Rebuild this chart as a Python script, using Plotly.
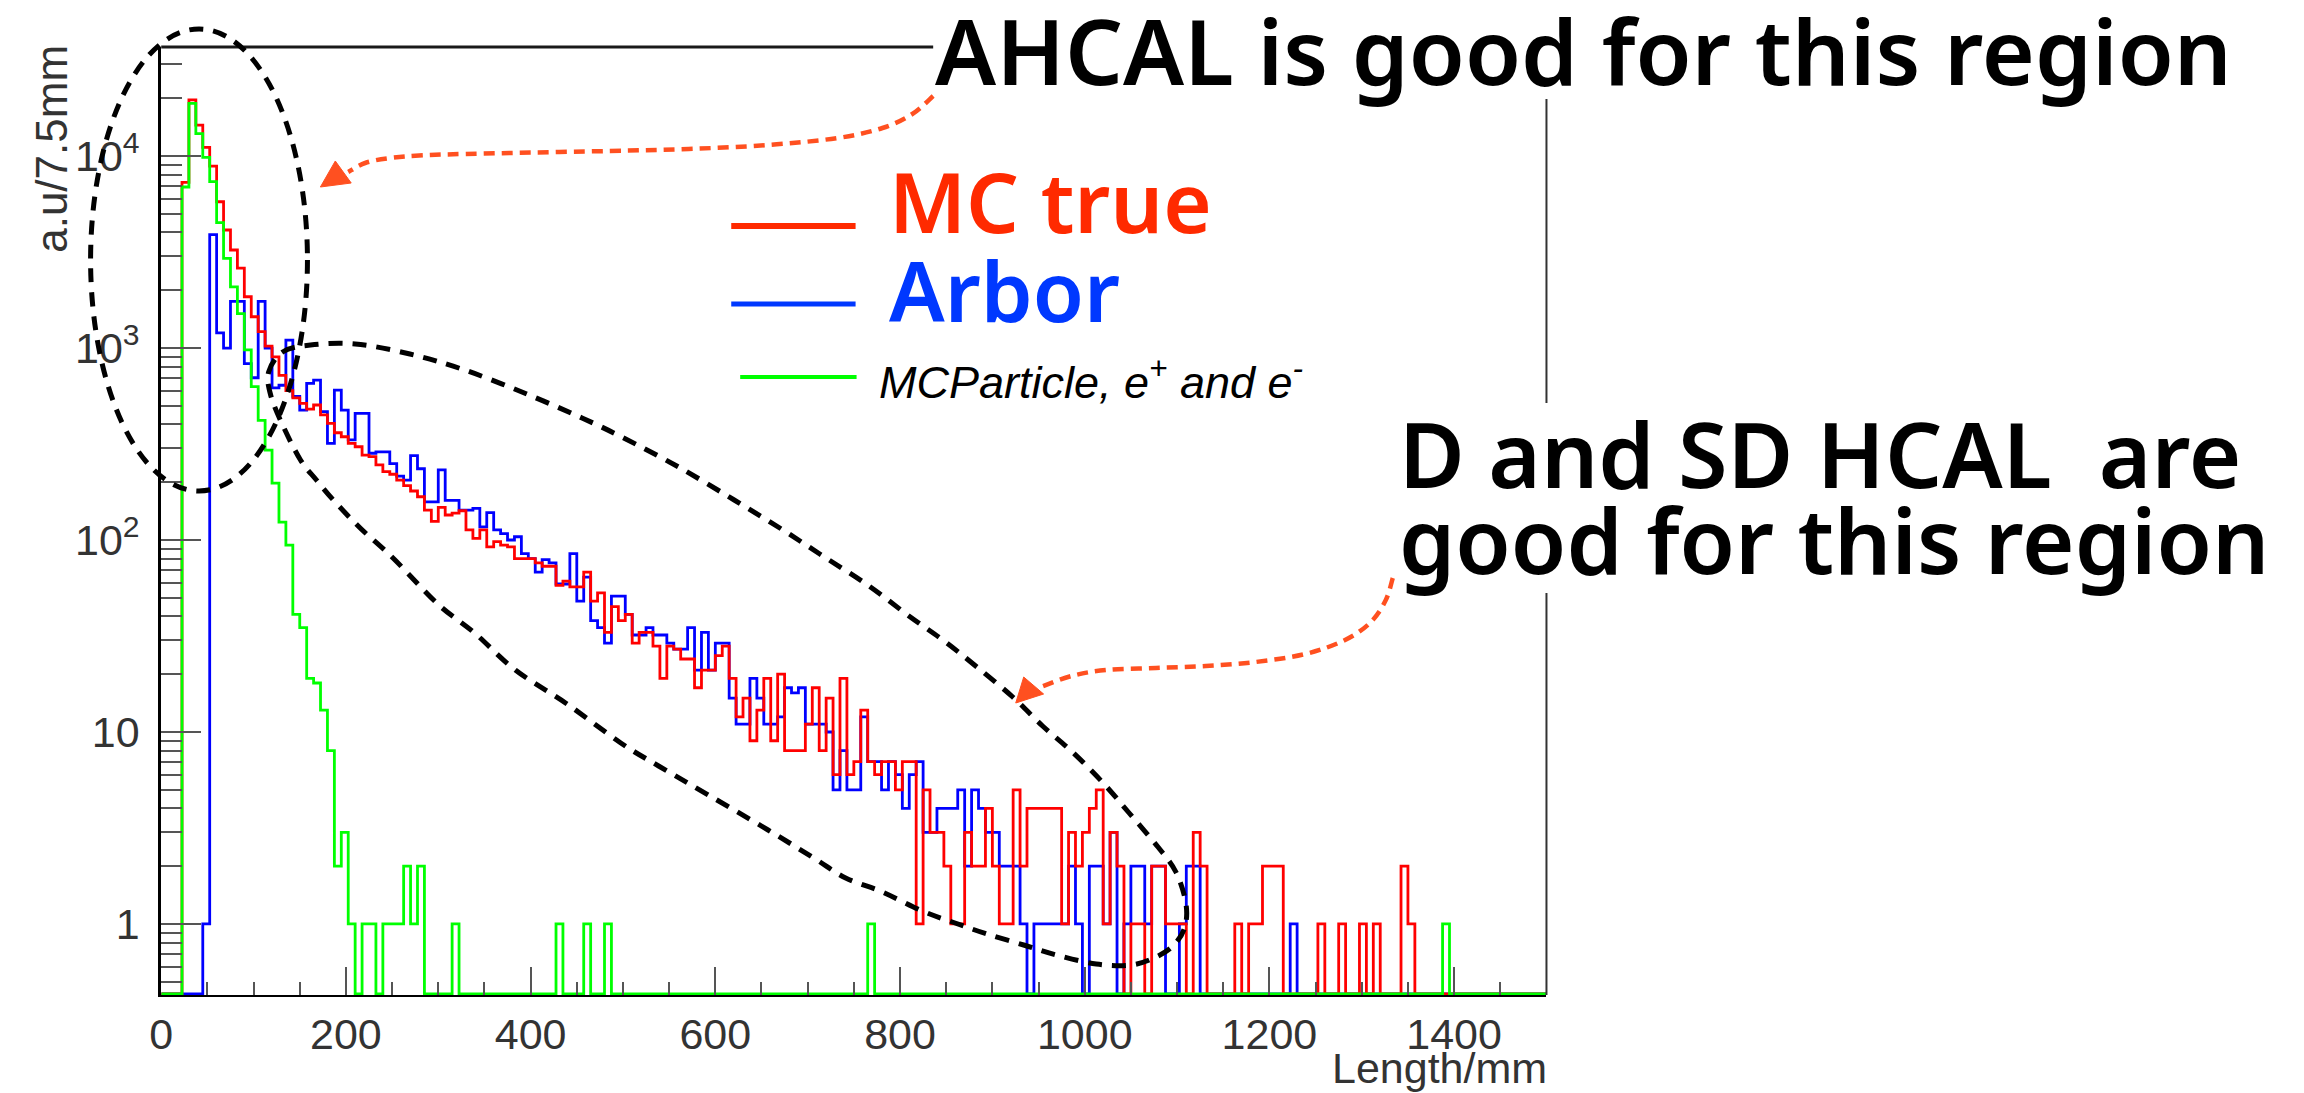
import plotly.graph_objects as go

# ---------------------------------------------------------------------------
# Figure geometry (pixels)
# ---------------------------------------------------------------------------
W, H = 2304, 1093
PLOT_LEFT, PLOT_RIGHT = 150, 1542.5
PLOT_TOP, PLOT_BOTTOM = 47, 995

# ---------------------------------------------------------------------------
# Histogram data: track length, 200 bins of 7.5 mm from 0 to 1500 mm
# ---------------------------------------------------------------------------
BIN_WIDTH = 7.5
N_BINS = 200

mc_true = [
    0, 0, 0, 7300, 19600, 14500, 11100, 8870, 5780, 4120,
    3240, 2610, 1850, 1455, 1216, 1024, 900, 720, 600, 550,
    515, 480, 505, 448, 405, 362, 345, 319, 306, 277,
    272, 246, 227, 220, 205, 192, 180, 168, 143, 125,
    148, 135, 138, 142, 113, 102, 113, 92, 98, 94,
    92, 80, 80, 80, 76, 73, 73, 58, 61, 57,
    57, 68, 48, 53, 33, 45, 38, 41, 29, 33,
    33, 28, 19, 28, 27, 24, 24, 17, 21, 21,
    25, 28, 19, 12, 15, 9, 13, 19, 9, 20,
    8, 8, 8, 11, 17, 8, 15, 6, 19, 6,
    7, 13, 7, 6, 7, 7, 5, 7, 7, 1,
    5, 3, 3, 2, 1, 1, 3, 2, 2, 4,
    2, 1, 1, 5, 2, 4, 4, 4, 4, 4,
    1, 3, 2, 3, 4, 5, 1, 3, 2, 0,
    1, 1, 0, 2, 2, 1, 1, 1, 0, 3,
    2, 0, 0, 0, 0, 1, 0, 1, 1, 2,
    2, 2, 0, 0, 0, 0, 0, 1, 0, 0,
    1, 0, 0, 1, 0, 1, 0, 0, 0, 2,
    1, 0, 0, 0, 0, 0, 0, 0, 0, 0,
    0, 0, 0, 0, 0, 0, 0, 0, 0, 0,
]

arbor = [
    0, 0, 0, 0, 0, 0, 1, 3900, 1200, 1000,
    1750, 1750, 830, 700, 1750, 1000, 620, 640, 1100, 560,
    475, 654, 681, 466, 319, 604, 475, 332, 457, 457,
    283, 288, 288, 250, 215, 205, 275, 235, 158, 158,
    232, 161, 161, 143, 143, 146, 117, 139, 113, 108,
    100, 104, 85, 80, 68, 79, 76, 59, 59, 85,
    48, 64, 38, 35, 29, 51, 51, 41, 32, 32,
    35, 32, 32, 29, 27, 27, 35, 21, 33, 21,
    29, 29, 15, 11, 11, 19, 15, 11, 11, 12,
    17, 16, 17, 11, 11, 11, 10, 5, 8, 5,
    5, 12, 7, 7, 5, 7, 6, 4, 6, 7,
    3, 3, 4, 4, 4, 5, 2, 5, 4, 3,
    3, 2, 2, 2, 1, 0, 1, 1, 1, 1,
    1, 2, 1, 0, 2, 2, 1, 3, 0, 1,
    2, 2, 1, 2, 2, 0, 0, 1, 2, 2,
    0, 0, 0, 0, 0, 0, 0, 0, 0, 0,
    0, 0, 0, 1, 0, 0, 0, 0, 0, 0,
    0, 0, 0, 0, 0, 0, 0, 0, 0, 0,
    0, 0, 0, 0, 0, 0, 0, 0, 0, 0,
    0, 0, 0, 0, 0, 0, 0, 0, 0, 0,
]

mc_particle_ee = [
    0, 0, 0, 6900, 18800, 13100, 9850, 7350, 4500, 2930,
    2080, 1510, 977, 630, 420, 294, 198, 124, 94, 41,
    35, 19, 18, 13, 8, 2, 3, 1, 0, 1,
    1, 0, 1, 1, 1, 2, 1, 2, 0, 0,
    0, 0, 1, 0, 0, 0, 0, 0, 0, 0,
    0, 0, 0, 0, 0, 0, 0, 1, 0, 0,
    0, 1, 0, 0, 1, 0, 0, 0, 0, 0,
    0, 0, 0, 0, 0, 0, 0, 0, 0, 0,
    0, 0, 0, 0, 0, 0, 0, 0, 0, 0,
    0, 0, 0, 0, 0, 0, 0, 0, 0, 0,
    0, 0, 1, 0, 0, 0, 0, 0, 0, 0,
    0, 0, 0, 0, 0, 0, 0, 0, 0, 0,
    0, 0, 0, 0, 0, 0, 0, 0, 0, 0,
    0, 0, 0, 0, 0, 0, 0, 0, 0, 0,
    0, 0, 0, 0, 0, 0, 0, 0, 0, 0,
    0, 0, 0, 0, 0, 0, 0, 0, 0, 0,
    0, 0, 0, 0, 0, 0, 0, 0, 0, 0,
    0, 0, 0, 0, 0, 0, 0, 0, 0, 0,
    0, 0, 0, 0, 0, 1, 0, 0, 0, 0,
    0, 0, 0, 0, 0, 0, 0, 0, 0, 0,
]

x_tick_vals = [0, 200, 400, 600, 800, 1000, 1200, 1400]
x_tick_text = ["0", "200", "400", "600", "800", "1000", "1200", "1400"]
y_tick_vals = [1, 10, 100, 1000, 10000]
y_tick_text = ["1", "10", "10<sup>2</sup>", "10<sup>3</sup>", "10<sup>4</sup>"]

X_RANGE = [0, 1500]
Y_LOG_RANGE = [-0.370, 4.568]

# empty bins are drawn along the bottom edge of the frame, as ROOT does
FLOOR = 10 ** (Y_LOG_RANGE[0] + 0.006)

edges = [i * BIN_WIDTH for i in range(N_BINS + 1)]


def step_values(vals):
    ys = [v if v > 0 else FLOOR for v in vals]
    return ys + [ys[-1]]


# ---------------------------------------------------------------------------
# Helpers for layout drawing in pixel units (margins are zero -> paper = px)
# ---------------------------------------------------------------------------
def px(x, y):
    return x / W, 1 - y / H


def smooth_path(points, closed=False):
    """Catmull-Rom spline through pixel points, returned as an SVG path in paper units."""
    n = len(points)
    pts = [px(*p) for p in points]

    def p(i):
        if closed:
            return pts[i % n]
        return pts[min(max(i, 0), n - 1)]

    segs = n if closed else n - 1
    d = "M {:.5f},{:.5f}".format(*pts[0])
    for i in range(segs):
        p0, p1, p2, p3 = p(i - 1), p(i), p(i + 1), p(i + 2)
        c1 = (p1[0] + (p2[0] - p0[0]) / 6, p1[1] + (p2[1] - p0[1]) / 6)
        c2 = (p2[0] - (p3[0] - p1[0]) / 6, p2[1] - (p3[1] - p1[1]) / 6)
        d += " C {:.5f},{:.5f} {:.5f},{:.5f} {:.5f},{:.5f}".format(*c1, *c2, *p2)
    if closed:
        d += " Z"
    return d


def polygon_path(points):
    pts = [px(*p) for p in points]
    d = "M {:.5f},{:.5f}".format(*pts[0])
    for q in pts[1:]:
        d += " L {:.5f},{:.5f}".format(*q)
    return d + " Z"


# ---------------------------------------------------------------------------
# Traces
# ---------------------------------------------------------------------------
fig = go.Figure()

series = [
    ("Arbor", arbor, "#0000ff"),
    ("MC true", mc_true, "#ff0000"),
    ("MCParticle, e+ and e-", mc_particle_ee, "#00ff00"),
]
for name, vals, color in series:
    fig.add_trace(
        go.Scatter(
            x=edges,
            y=step_values(vals),
            mode="lines",
            line=dict(color=color, width=2.8, shape="hv"),
            name=name,
            showlegend=False,
            hoverinfo="skip",
        )
    )

# ---------------------------------------------------------------------------
# Axes
# ---------------------------------------------------------------------------
TICK_FONT = dict(family="Liberation Sans, Arial, sans-serif", size=43, color="#333333")

minor_x = [v for v in range(50, 1500, 50) if v % 200 != 0]
minor_y = [k * 10 ** d for d in range(-1, 5) for k in range(2, 10)]
minor_y = [v for v in minor_y if 10 ** Y_LOG_RANGE[0] <= v <= 10 ** Y_LOG_RANGE[1]]

fig.update_xaxes(
    domain=[PLOT_LEFT / W, PLOT_RIGHT / W],
    range=X_RANGE,
    showgrid=False,
    zeroline=False,
    showline=True,
    linecolor="#000000",
    linewidth=2,
    ticks="inside",
    tickmode="array",
    tickvals=x_tick_vals,
    ticktext=x_tick_text,
    ticklen=28,
    tickwidth=2,
    tickcolor="#555555",
    tickfont=TICK_FONT,
    minor=dict(tickmode="array", tickvals=minor_x, ticks="inside", ticklen=13,
               tickwidth=2, tickcolor="#555555", showgrid=False),
)
fig.update_yaxes(
    type="log",
    domain=[1 - PLOT_BOTTOM / H, 1 - PLOT_TOP / H],
    range=Y_LOG_RANGE,
    showgrid=False,
    zeroline=False,
    showline=True,
    linecolor="#000000",
    linewidth=3,
    ticks="inside",
    tickmode="array",
    tickvals=y_tick_vals,
    ticktext=y_tick_text,
    ticklen=40,
    tickwidth=2,
    tickcolor="#555555",
    tickfont=TICK_FONT,
    ticklabelstandoff=10,
    minor=dict(tickmode="array", tickvals=minor_y, ticks="inside", ticklen=21,
               tickwidth=2, tickcolor="#555555", showgrid=False),
)

# ---------------------------------------------------------------------------
# Shapes: frame, white label backgrounds, region outlines, arrows, legend keys
# ---------------------------------------------------------------------------
shapes = []


def line_shape(x0, y0, x1, y1, color, width, dash="solid"):
    a, b = px(x0, y0)
    c, d = px(x1, y1)
    return dict(type="line", xref="paper", yref="paper", x0=a, y0=b, x1=c, y1=d,
                line=dict(color=color, width=width, dash=dash), layer="above")


def rect_shape(x0, y0, x1, y1, fill):
    a, b = px(x0, y0)
    c, d = px(x1, y1)
    return dict(type="rect", xref="paper", yref="paper", x0=a, y0=b, x1=c, y1=d,
                fillcolor=fill, line=dict(width=0), layer="above")


# frame top and right
shapes.append(line_shape(PLOT_LEFT, PLOT_TOP, PLOT_RIGHT, PLOT_TOP, "#1a1a1a", 3))
shapes.append(line_shape(PLOT_RIGHT, PLOT_TOP, PLOT_RIGHT, PLOT_BOTTOM, "#333333", 2))

# white backgrounds behind the large captions
shapes.append(rect_shape(926, 0, W, 99, "#ffffff"))
shapes.append(rect_shape(1390, 403, W, 593, "#ffffff"))

OUTLINE = dict(color="#000000", width=5, dash="14px,10px")

# dashed outline around the low-length peak
ea, eb = px(188 - 109, 260 + 231)
ec, ed = px(188 + 109, 260 - 231)
shapes.append(dict(type="circle", xref="paper", yref="paper", x0=ea, y0=eb, x1=ec, y1=ed,
                   line=OUTLINE, layer="above"))

# dashed outline along the exponential tail
tail_outline = [
    (258, 372), (272, 352), (300, 345), (345, 344), (400, 354), (455, 370),
    (515, 393), (573, 418), (613, 437), (670, 467), (726, 500), (775, 530),
    (812, 554), (860, 585), (903, 617), (937, 641), (970, 667), (1006, 697),
    (1036, 726), (1066, 752), (1096, 782), (1123, 813), (1152, 847), (1170, 872),
    (1180, 903), (1179, 927), (1168, 945), (1150, 957), (1125, 965), (1090, 964),
    (1050, 955), (1017, 945), (980, 934), (948, 923), (915, 911), (875, 892),
    (838, 878), (806, 858), (760, 830), (700, 795), (650, 766), (612, 743),
    (558, 704), (506, 670), (465, 633), (428, 604), (383, 558), (350, 528),
    (323, 500), (306, 480), (290, 460), (272, 425), (260, 395),
]
shapes.append(dict(type="path", xref="paper", yref="paper",
                   path=smooth_path(tail_outline, closed=True),
                   line=OUTLINE, layer="above"))

ARROW = "#ff5020"
ARROW_LINE = dict(color=ARROW, width=4.5, dash="11px,7px")
arrow1 = [(926, 96), (905, 114), (875, 128), (830, 138), (760, 145), (680, 149),
          (600, 151), (500, 153), (420, 155), (380, 158), (355, 163), (338, 172)]
shapes.append(dict(type="path", xref="paper", yref="paper", path=smooth_path(arrow1),
                   line=ARROW_LINE, layer="above"))
shapes.append(dict(type="path", xref="paper", yref="paper",
                   path=polygon_path([(310, 187), (325, 161), (341, 183)]),
                   fillcolor=ARROW, line=dict(color=ARROW, width=1), layer="above"))

arrow2 = [(1388, 578), (1381, 600), (1366, 622), (1340, 640), (1300, 654), (1250, 662),
          (1200, 666), (1150, 668), (1100, 670), (1065, 676), (1034, 687)]
shapes.append(dict(type="path", xref="paper", yref="paper", path=smooth_path(arrow2),
                   line=ARROW_LINE, layer="above"))
shapes.append(dict(type="path", xref="paper", yref="paper",
                   path=polygon_path([(1009, 703), (1017, 677), (1037, 694)]),
                   fillcolor=ARROW, line=dict(color=ARROW, width=1), layer="above"))

# legend keys
shapes.append(line_shape(723, 226, 848, 226, "#ff2a00", 6))
shapes.append(line_shape(723, 304, 848, 304, "#0038ff", 5))
shapes.append(line_shape(732, 377, 849, 377, "#00ff00", 4))

fig.update_layout(shapes=shapes)

# ---------------------------------------------------------------------------
# Text
# ---------------------------------------------------------------------------
annotations = []


def text(x, y, s, size, color="#000000", family="Noto Sans, sans-serif", weight=600,
         xanchor="left", yanchor="middle", angle=0):
    a, b = px(x, y)
    annotations.append(dict(xref="paper", yref="paper", x=a, y=b, text=s, showarrow=False,
                            xanchor=xanchor, yanchor=yanchor, textangle=angle,
                            font=dict(family=family, size=size, color=color, weight=weight)))


text(926, 50, "AHCAL is good for this region", 91)
text(1392, 453, "D and SD HCAL&nbsp; are", 90)
text(1392, 539, "good for this region", 90)

text(880, 200, "MC true", 83, color="#ff2a00")
text(880, 290, "Arbor", 83, color="#0038ff")
text(870, 379, "<i>MCParticle, e<sup>+</sup> and e<sup>-</sup></i>", 45,
     family="Liberation Sans, Arial, sans-serif", weight=400)

text(1545, 1068, "Length/mm", 43, color="#333333",
     family="Liberation Sans, Arial, sans-serif", weight=400, xanchor="right")
text(40, 149, "a.u/7.5mm", 44, color="#333333",
     family="Liberation Sans, Arial, sans-serif", weight=400, xanchor="center", angle=-90)

fig.update_layout(
    annotations=annotations,
    width=W,
    height=H,
    autosize=False,
    margin=dict(l=0, r=0, t=0, b=0),
    paper_bgcolor="#ffffff",
    plot_bgcolor="#ffffff",
    showlegend=False,
)

fig.write_html("out.html")
